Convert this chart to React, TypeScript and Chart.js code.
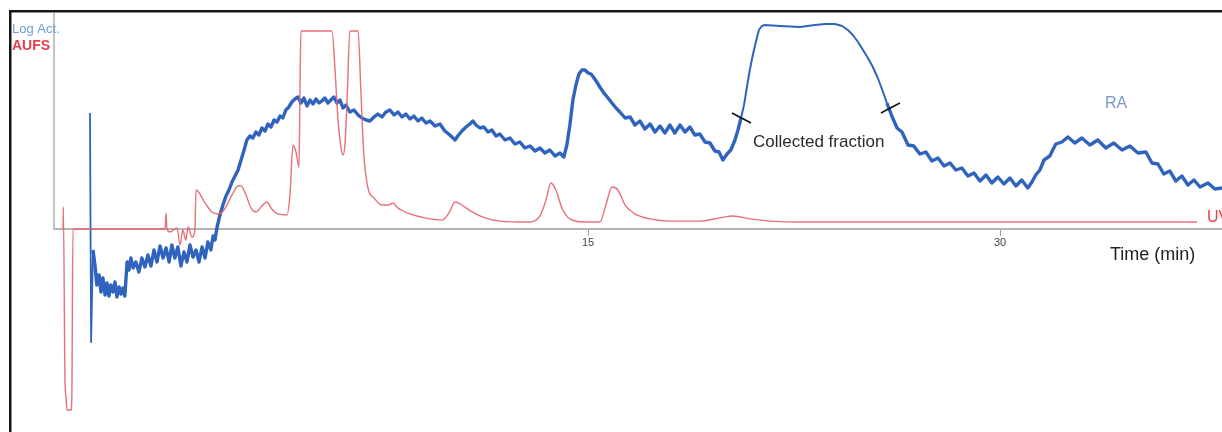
import { useEffect, useRef } from "react";
import { Chart, registerables } from "chart.js";

Chart.register(...registerables);

// ---- UV trace (AUFS) ----
const uvTime = [
  -4.11, -4.1, -4.04, -4.0, -3.97, -3.82, -3.79, -3.75, -0.4, -0.36, -0.33, -0.22, 0.04, 0.15, 0.25, 0.36, 0.44,
  0.58, 0.69, 0.73, 1.06, 1.31, 1.53, 1.75, 2.04, 2.26, 2.37, 2.55, 2.73, 2.91, 3.13, 3.31, 3.49, 3.71, 4.04,
  4.15, 4.26, 4.37, 4.48, 4.51, 4.55, 5.68, 5.79, 5.9, 6.01, 6.08, 6.15, 6.23, 6.33, 6.63, 6.73, 6.84, 6.99,
  7.21, 7.5, 7.72, 7.9, 8.08, 8.52, 9.06, 9.68, 9.94, 10.16, 10.41, 10.78, 11.25, 11.79, 12.89, 13.25, 13.47,
  13.65, 13.83, 14.05, 14.34, 14.89, 15.43, 15.65, 15.87, 16.09, 16.35, 16.71, 17.26, 17.98, 19.07, 19.8,
  20.28, 20.9, 21.62, 22.72, 30.0, 37.17,
];
const uvAufs = [
  0, 0.111, -0.763, -0.854, -0.914, -0.914, -0.838, 0, 0, 0.081, 0, -0.015, 0.005, -0.081, -0.005, -0.056, 0.01,
  -0.04, -0.005, 0.197, 0.131, 0.086, 0.076, 0.096, 0.172, 0.217, 0.217, 0.172, 0.106, 0.086, 0.116, 0.136,
  0.101, 0.076, 0.071, 0.172, 0.424, 0.389, 0.313, 0.652, 1.0, 1.0, 0.803, 0.551, 0.409, 0.374, 0.424, 0.652,
  1.0, 1.0, 0.702, 0.374, 0.207, 0.157, 0.121, 0.121, 0.131, 0.106, 0.076, 0.056, 0.045, 0.081, 0.136, 0.121,
  0.086, 0.056, 0.04, 0.035, 0.066, 0.146, 0.232, 0.197, 0.106, 0.051, 0.035, 0.035, 0.121, 0.212, 0.197,
  0.121, 0.076, 0.051, 0.04, 0.04, 0.056, 0.066, 0.051, 0.04, 0.035, 0.035, 0.035,
];

// ---- Radioactivity trace (Log Act.) ----
const raTime = [
  -3.13, -3.09, -3.02, -2.95, -2.88, -2.8, -2.73, -2.66, -2.58, -2.51, -2.44, -2.37, -2.29, -2.22, -2.15, -2.07,
  -2.0, -1.93, -1.86, -1.78, -1.71, -1.64, -1.56, -1.46, -1.35, -1.24, -1.13, -1.02, -0.91, -0.8, -0.69, -0.58,
  -0.47, -0.36, -0.25, -0.15, -0.04, 0.07, 0.18, 0.29, 0.4, 0.51, 0.62, 0.73, 0.84, 0.95, 1.06, 1.16, 1.27, 1.35,
  1.42, 1.49, 1.6, 1.71, 1.82, 1.93, 2.04, 2.15, 2.26, 2.37, 2.48, 2.58, 2.69, 2.8, 2.91, 3.02, 3.13, 3.24, 3.35,
  3.46, 3.57, 3.68, 3.79, 3.89, 4.0, 4.11, 4.22, 4.33, 4.44, 4.55, 4.66, 4.77, 4.88, 4.99, 5.1, 5.21, 5.31, 5.42,
  5.53, 5.64, 5.75, 5.86, 5.97, 6.08, 6.19, 6.33, 6.48, 6.63, 6.77, 6.92, 7.06, 7.21, 7.35, 7.5, 7.64, 7.79, 7.94,
  8.08, 8.23, 8.37, 8.52, 8.66, 8.81, 8.95, 9.1, 9.25, 9.43, 9.61, 9.79, 9.97, 10.16, 10.26, 10.41, 10.56, 10.7,
  10.81, 10.92, 11.07, 11.21, 11.36, 11.5, 11.65, 11.79, 11.98, 12.16, 12.34, 12.52, 12.7, 12.89, 13.07, 13.25,
  13.43, 13.61, 13.8, 13.98, 14.12, 14.23, 14.34, 14.45, 14.56, 14.67, 14.78, 14.89, 15.0, 15.11, 15.22, 15.32,
  15.43, 15.58, 15.73, 15.87, 16.02, 16.16, 16.35, 16.53, 16.71, 16.89, 17.07, 17.26, 17.44, 17.62, 17.8, 17.98,
  18.16, 18.35, 18.53, 18.71, 18.89, 19.07, 19.26, 19.44, 19.62, 19.77, 19.91, 20.06, 20.2, 20.35, 20.46, 20.57,
  20.68, 20.78, 20.89, 21.0, 21.11, 21.22, 21.33, 21.44, 21.99, 22.72, 23.26, 23.63, 23.99, 24.25, 24.46, 24.64,
  24.83, 25.01, 25.19, 25.37, 25.55, 25.74, 25.88, 26.06, 26.25, 26.43, 26.65, 26.86, 27.08, 27.3, 27.52, 27.74,
  27.96, 28.18, 28.39, 28.61, 28.83, 29.05, 29.27, 29.49, 29.7, 29.92, 30.14, 30.36, 30.58, 30.79, 31.01, 31.16,
  31.3, 31.45, 31.6, 31.81, 32.03, 32.25, 32.47, 32.72, 32.98, 33.27, 33.56, 33.85, 34.14, 34.44, 34.73, 35.02,
  35.31, 35.53, 35.75, 35.96, 36.18, 36.4, 36.62, 36.84, 37.06, 37.28, 37.57, 37.82, 38.08,
];
const raLogAct = [
  1.16, -1.13, -0.21, -0.36, -0.56, -0.46, -0.63, -0.49, -0.66, -0.54, -0.67, -0.56, -0.63, -0.53, -0.68, -0.58,
  -0.65, -0.59, -0.67, -0.33, -0.41, -0.29, -0.39, -0.33, -0.43, -0.29, -0.38, -0.26, -0.37, -0.21, -0.33, -0.17,
  -0.29, -0.19, -0.33, -0.16, -0.29, -0.18, -0.37, -0.23, -0.33, -0.16, -0.28, -0.21, -0.33, -0.18, -0.29, -0.13,
  -0.21, -0.07, -0.11, 0.01, 0.14, 0.24, 0.33, 0.39, 0.47, 0.53, 0.59, 0.69, 0.79, 0.89, 0.93, 0.91, 0.97, 0.94,
  1.01, 0.98, 1.05, 1.02, 1.09, 1.07, 1.13, 1.11, 1.19, 1.22, 1.27, 1.3, 1.32, 1.26, 1.31, 1.23, 1.29, 1.25, 1.3,
  1.26, 1.28, 1.31, 1.26, 1.29, 1.32, 1.26, 1.29, 1.21, 1.24, 1.17, 1.19, 1.14, 1.11, 1.09, 1.08, 1.12, 1.15,
  1.12, 1.17, 1.19, 1.14, 1.17, 1.12, 1.15, 1.1, 1.13, 1.08, 1.11, 1.06, 1.08, 1.03, 1.05, 0.98, 0.94, 0.89, 0.93,
  0.98, 1.02, 1.05, 1.08, 1.04, 1.01, 1.02, 0.97, 0.99, 0.93, 0.95, 0.89, 0.91, 0.85, 0.87, 0.81, 0.83, 0.78,
  0.81, 0.76, 0.79, 0.73, 0.76, 0.72, 0.84, 1.04, 1.29, 1.44, 1.55, 1.59, 1.59, 1.56, 1.55, 1.51, 1.47, 1.42,
  1.36, 1.31, 1.26, 1.21, 1.17, 1.11, 1.12, 1.04, 1.08, 1.0, 1.05, 0.97, 1.03, 0.96, 1.04, 0.96, 1.04, 0.97,
  1.02, 0.94, 0.95, 0.87, 0.86, 0.78, 0.77, 0.69, 0.75, 0.79, 0.89, 0.99, 1.11, 1.24, 1.41, 1.59, 1.74, 1.87,
  1.99, 2.03, 2.04, 2.03, 2.02, 2.04, 2.05, 2.05, 2.03, 1.99, 1.94, 1.87, 1.79, 1.71, 1.62, 1.51, 1.37, 1.26,
  1.13, 1.01, 0.97, 0.84, 0.83, 0.75, 0.77, 0.68, 0.71, 0.63, 0.66, 0.59, 0.61, 0.53, 0.56, 0.48, 0.54, 0.46,
  0.52, 0.45, 0.51, 0.43, 0.49, 0.41, 0.47, 0.54, 0.59, 0.69, 0.73, 0.85, 0.87, 0.92, 0.86, 0.91, 0.84, 0.89,
  0.81, 0.86, 0.79, 0.83, 0.76, 0.77, 0.66, 0.65, 0.55, 0.58, 0.48, 0.53, 0.44, 0.49, 0.42, 0.46, 0.4, 0.41,
];

const timeTicks = [15, 30];
const fractionTimes = [20.57, 25.99];
const fractionLevels = [1.11, 1.21];

const SANS = "'Liberation Sans', Arial, Helvetica, sans-serif";

const decorPlugin = {
  id: "decor",
  beforeDatasetsDraw(chart: any) {
    const { ctx } = chart;
    const base = chart.scales.yUv.getPixelForValue(0);
    ctx.save();
    ctx.strokeStyle = "#c4c4c4";
    ctx.lineWidth = 2;
    ctx.beginPath();
    ctx.moveTo(54, 13);
    ctx.lineTo(54, base);
    ctx.stroke();
    ctx.restore();
  },
  afterDraw(chart: any) {
    const { ctx } = chart;
    const xs = chart.scales.x;
    const yl = chart.scales.yLog;
    ctx.save();
    // frame
    ctx.fillStyle = "#161616";
    ctx.fillRect(9, 10, 1222 - 9, 2.5);
    ctx.fillRect(9, 10, 2.5, 432 - 10);

    // fraction markers
    ctx.strokeStyle = "#111";
    ctx.lineWidth = 1.5;
    fractionTimes.forEach((t, i) => {
      const px = xs.getPixelForValue(t);
      const py = yl.getPixelForValue(fractionLevels[i]);
      const s = i === 0 ? 1 : -1;
      ctx.beginPath();
      ctx.moveTo(px - 9, py - 5 * s);
      ctx.lineTo(px + 10, py + 5 * s);
      ctx.stroke();
    });

    ctx.textBaseline = "middle";
    ctx.textAlign = "left";
    ctx.fillStyle = "#6d9fd6";
    ctx.font = `13px ${SANS}`;
    ctx.fillText("Log Act.", 12, 29);
    ctx.fillStyle = "#e2404b";
    ctx.font = `bold 14px ${SANS}`;
    ctx.fillText("AUFS", 12, 46);

    ctx.fillStyle = "#2a2a2a";
    ctx.font = `17px ${SANS}`;
    ctx.fillText("Collected fraction", 753, 142);

    ctx.fillStyle = "#7a98cc";
    ctx.font = `16px ${SANS}`;
    ctx.fillText("RA", 1105, 104);

    ctx.fillStyle = "#222";
    ctx.font = `18px ${SANS}`;
    ctx.fillText("Time (min)", 1110, 255);

    ctx.fillStyle = "#e2404b";
    ctx.font = `16px ${SANS}`;
    ctx.fillText("UV", 1207, 218);
    ctx.restore();
  },
};

export default function App() {
  const ref = useRef<HTMLCanvasElement>(null);
  useEffect(() => {
    const canvas = ref.current;
    if (!canvas) return;
    const chart = new Chart(canvas, {
      type: "line",
      data: {
        datasets: [
          {
            label: "UV",
            data: uvTime.map((t, i) => ({ x: t, y: uvAufs[i] })),
            yAxisID: "yUv",
            borderColor: "rgba(228, 96, 106, 0.9)",
            borderWidth: 1.4,
            pointRadius: 0,
            cubicInterpolationMode: "monotone",
            fill: false,
          },
          {
            label: "RA",
            data: raTime.map((t, i) => ({ x: t, y: raLogAct[i] })),
            yAxisID: "yLog",
            borderColor: "#2f63bd",
            borderWidth: 3.4,
            borderJoinStyle: "round",
            pointRadius: 0,
            tension: 0,
            fill: false,
            segment: {
              borderWidth: (c: any) => {
                const a = c.p0.parsed.x;
                const b = c.p1.parsed.x;
                if (b <= -3.0) return 1.8;
                if (a > 20.5 && b < 25.9) return 2;
                return 3.4;
              },
            },
          },
        ],
      },
      options: {
        responsive: false,
        animation: false,
        events: [],
        layout: { padding: { left: 54, top: 20, right: 0, bottom: 0 } },
        plugins: { legend: { display: false }, tooltip: { enabled: false } },
        scales: {
          x: {
            type: "linear",
            min: -4.44,
            max: 38.08,
            position: { yUv: 0 },
            afterBuildTicks: (axis: any) => {
              axis.ticks = timeTicks.map((v) => ({ value: v }));
            },
            grid: {
              drawOnChartArea: false,
              drawTicks: true,
              tickLength: 6,
              color: "#9a9a9a",
              lineWidth: 1,
            },
            border: { display: true, color: "#b4b4b4", width: 2 },
            ticks: {
              autoSkip: false,
              maxRotation: 0,
              padding: 1,
              color: "#444",
              font: { family: SANS, size: 11 },
            },
          },
          yUv: { display: false, min: -1.0253, max: 1.0556 },
          yLog: { display: false, min: -2.03, max: 2.09 },
        },
      },
      plugins: [decorPlugin],
    } as any);
    return () => chart.destroy();
  }, []);
  return (
    <canvas
      ref={ref}
      width={1222}
      height={432}
      style={{ position: "absolute", left: 0, top: 0, width: 1222, height: 432 }}
    />
  );
}
